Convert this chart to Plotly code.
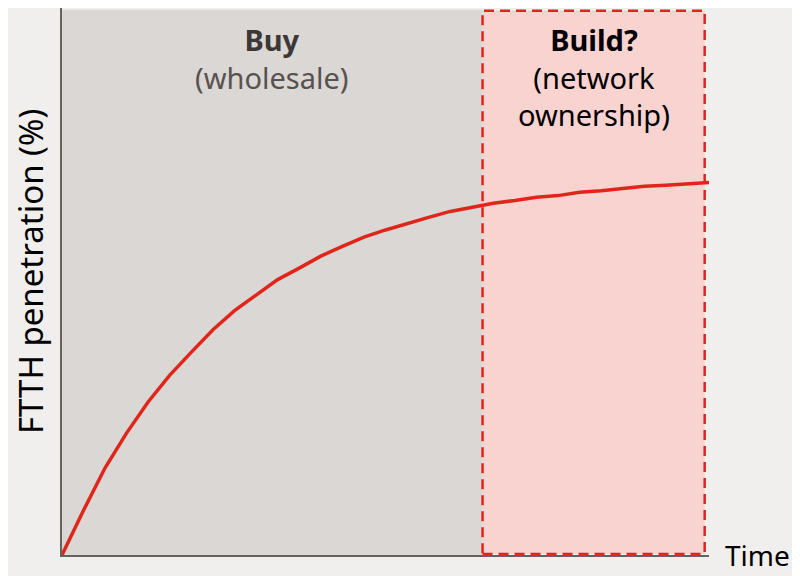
import plotly.graph_objects as go

# time steps and penetration (%)
time = list(range(31))
penetration = [0.0, 8.2, 16.0, 22.4, 28.1, 33.0, 37.2, 41.3, 44.8, 47.7,
               50.5, 52.6, 54.8, 56.6, 58.3, 59.6, 60.8, 61.9, 63.0, 63.8,
               64.5, 65.0, 65.6, 65.9, 66.5, 66.8, 67.2, 67.6, 67.8, 68.1, 68.3]

# phase boundaries (in time units)
buy_start, buy_end = 0, 19.5
build_end = 29.8

FONT = 'Noto Sans'
BG = '#F0EFED'

fig = go.Figure()

# buy phase (grey block)
fig.add_shape(type='rect', xref='x', yref='y', x0=buy_start, x1=buy_end, y0=0, y1=100,
              fillcolor='#DBD7D4', line=dict(width=0), layer='below')
# build phase (pink block, dashed red outline)
fig.add_shape(type='rect', xref='x', yref='y', x0=buy_end, x1=build_end, y0=0.2, y1=99.8,
              fillcolor='#F9D3D0', line=dict(color='#E0261B', width=2.5, dash='10px,6px'),
              layer='below')

fig.add_trace(go.Scatter(x=time, y=penetration, mode='lines',
                         line=dict(color='#E0261B', width=3.5), showlegend=False,
                         hoverinfo='skip'))

fig.add_annotation(x=(buy_start + buy_end) / 2, y=100, xref='x', yref='y',
                   text='<b><span style="color:#3C3835">Buy</span></b><br>(wholesale)',
                   showarrow=False, yanchor='top', yshift=-8,
                   font=dict(family=FONT, size=29, color='#57524F'))
fig.add_annotation(x=(buy_end + build_end) / 2, y=100, xref='x', yref='y',
                   text='<b>Build?</b><br>(network<br>ownership)', showarrow=False,
                   yanchor='top', yshift=-8, font=dict(family=FONT, size=29, color='#000000'))

# axis titles placed by hand, like the source slide
fig.add_annotation(x=-0.0495, y=0.519, xref='paper', yref='paper',
                   text='FTTH penetration (%)', textangle=-90, showarrow=False,
                   xanchor='center', yanchor='middle',
                   font=dict(family=FONT, size=33, color='#000000'))
fig.add_annotation(x=1.075, y=0.0, xref='paper', yref='paper',
                   text='Time', showarrow=False, xanchor='center', yanchor='middle',
                   font=dict(family=FONT, size=28, color='#000000'))

axis_style = dict(showgrid=False, zeroline=False, showticklabels=False, ticks='',
                  showline=True, linecolor='#66625E', linewidth=2, fixedrange=True)
fig.update_xaxes(range=[0, 30], **axis_style)
fig.update_yaxes(range=[0, 100.3], **axis_style)

# page body has an 8px margin, so the figure is 8px smaller each way
fig.update_layout(width=792, height=568, margin=dict(l=54, r=91, t=0, b=21),
                  paper_bgcolor=BG, plot_bgcolor=BG,
                  font=dict(family=FONT), showlegend=False)

fig.write_html('out.html', config={'displayModeBar': False})
